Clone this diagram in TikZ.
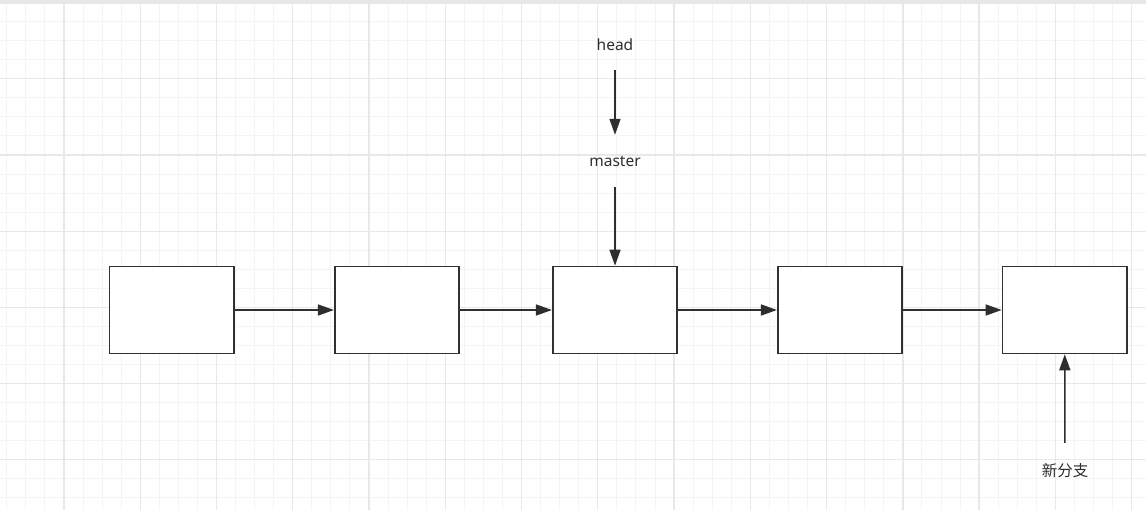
\documentclass[tikz,border=0pt]{standalone}
\usepackage{fontspec}
\setmainfont{Noto Sans}
\newfontfamily\cjkfont{Noto Sans CJK SC}
\usetikzlibrary{arrows.meta}
\definecolor{minorgrid}{HTML}{F4F4F4}
\definecolor{majorgrid}{HTML}{E8E8E8}
\definecolor{topbar}{HTML}{E6E7E9}
\definecolor{ink}{HTML}{2E2E2E}
\definecolor{boxline}{HTML}{2E3236}
\tikzset{
  commit/.style={draw=boxline, fill=white, line width=1.6pt, minimum width=124.5pt, minimum height=87pt, inner sep=0pt},
  label/.style={text=ink, font=\fontsize{15.5}{18}\selectfont, inner sep=0pt},
  cjklabel/.style={text=ink, font=\cjkfont\fontsize{15.5}{18}\selectfont, inner sep=0pt},
  arr/.style={draw=ink, line width=1.5pt, -{Triangle[length=16pt,width=11pt]}},
}
\begin{document}
\begin{tikzpicture}[x=1pt,y=-1pt]
\useasboundingbox (0,0) rectangle (1146,510);
\fill[white] (0,0) rectangle (1146,510);
% grid
\begin{scope}[line width=1pt]
\foreach \k in {-3,...,56} \draw[minorgrid] (64+\k*19.065,0) -- (64+\k*19.065,510);
\foreach \k in {-4,...,22} \draw[minorgrid] (0,78.8+\k*19.05) -- (1146,78.8+\k*19.05);
\end{scope}
\begin{scope}[line width=1.3pt]
\foreach \m in {0,...,14} \draw[majorgrid] (64+\m*76.26,0) -- (64+\m*76.26,510);
\foreach \m in {-1,...,5} \draw[majorgrid] (0,78.8+\m*76.2) -- (1146,78.8+\m*76.2);
\end{scope}
\fill[topbar] (0,0) rectangle (1146,4);
% commits
\node[commit] (c1) at (171.9,310) {};
\node[commit] (c2) at (397,310) {};
\node[commit] (c3) at (615,310) {};
\node[commit] (c4) at (840,310) {};
\node[commit] (c5) at (1064.7,310) {};
\draw[arr] (c1) -- (c2);
\draw[arr] (c2) -- (c3);
\draw[arr] (c3) -- (c4);
\draw[arr] (c4) -- (c5);
% labels
\node[label, minimum height=50pt] (head) at (615,45) {head};
\node[label, minimum height=52pt] (master) at (615,161) {master};
\node[cjklabel, minimum height=55pt] (branch) at (1065,470.5) {新分支};
\draw[arr] (head) -- (master);
\draw[arr] (master) -- (c3);
\draw[arr] (branch) -- (c5);
\end{tikzpicture}
\end{document}
